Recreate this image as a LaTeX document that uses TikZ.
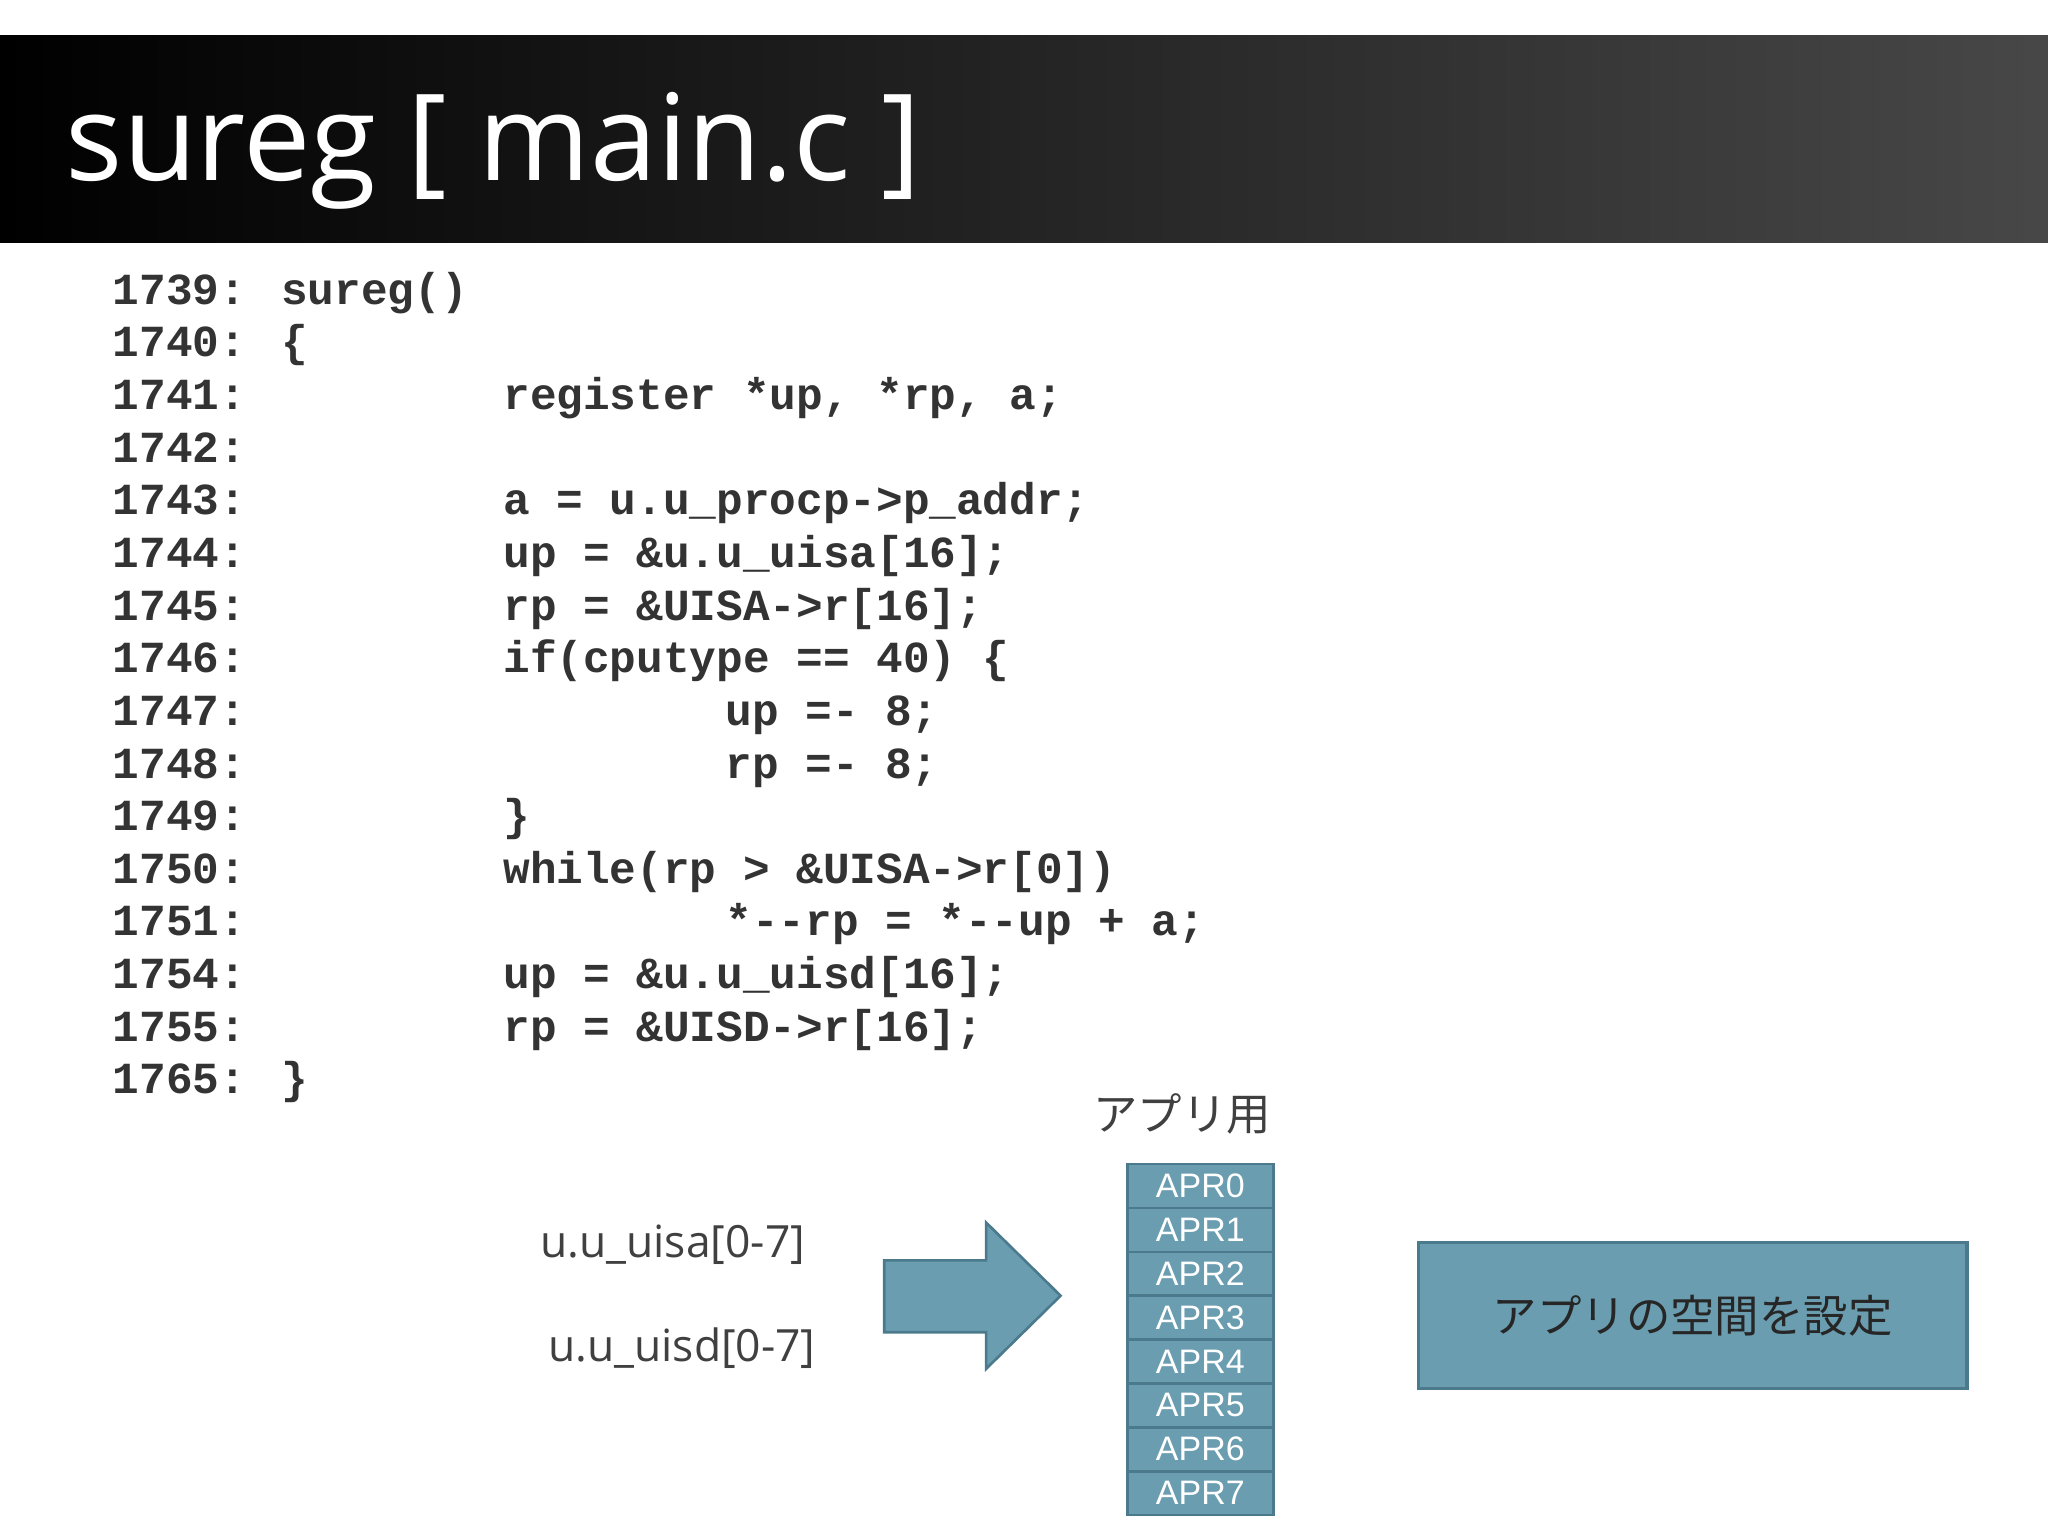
\documentclass[tikz,border=0pt]{standalone}
\usepackage{fontspec}
\setmainfont{Open Sans}
\setmonofont{Liberation Mono}
\newfontfamily\cjk{Noto Sans CJK JP}
\newfontfamily\lib{Liberation Sans}
\definecolor{boxfill}{HTML}{6A9DB0}
\definecolor{boxline}{HTML}{4A7A8C}
\begin{document}
\begin{tikzpicture}[x=0.5pt,y=-0.5pt,
  code/.style={anchor=base west,inner sep=0pt,font=\ttfamily\bfseries\fontsize{17}{20}\selectfont,text=black!80},
  apr/.style={draw=boxline,line width=1pt,fill=boxfill,minimum width=56pt,minimum height=16.8pt,inner sep=0pt,text=white,font=\lib\fontsize{13}{15}\selectfont},
  lbl/.style={inner sep=0pt,font=\fontsize{17}{20}\selectfont,text=black!75}]
\useasboundingbox (0,0) rectangle (1568,1175);
\fill[white] (0,0) rectangle (1568,1175);
\shade[left color=black,right color=black!72] (0,27) rectangle (1568,186);
\node[anchor=base west,inner sep=0pt,text=white,font=\fontsize{46}{50}\selectfont] (title) at (50,138) {sureg [ main.c ]};
\foreach \n/\i/\c [count=\k from 0] in {1739/215/{sureg()},1740/215/\{,1741/385/{register *up, *rp, a;},1742/385/{},1743/385/{a = u.u\_procp->p\_addr;},1744/385/{up = \&u.u\_uisa[16];},1745/385/{rp = \&UISA->r[16];},1746/385/{if(cputype == 40) \{},1747/555/{up =- 8;},1748/555/{rp =- 8;},1749/385/\},1750/385/{while(rp > \&UISA->r[0])},1751/555/{*--rp = *--up + a;},1754/385/{up = \&u.u\_uisd[16];},1755/385/{rp = \&UISD->r[16];},1765/215/\}}{
  \node[code] (ln\k) at (86,{233+40.3*\k}) {\n:};
  \node[code] (cd\k) at (\i,{233+40.3*\k}) {\c};
}
\node[inner sep=0pt,font=\cjk\fontsize{17}{20}\selectfont,text=black!75] (app) at (905,853) {アプリ用};
\foreach \k in {0,...,7}{
  \node[apr] (apr\k) at (919,{908+33.6*\k}) {APR\k};
}
\node[lbl] (uisa) at (515,953) {u.u\_uisa[0-7]};
\node[lbl] (uisd) at (522,1032) {u.u\_uisd[0-7]};
\draw[boxline,line width=1pt,fill=boxfill] (677,965) -- (755,965) -- (755,936) -- (812,992) -- (755,1048) -- (755,1020) -- (677,1020) -- cycle;
\node[draw=boxline,line width=1.2pt,fill=boxfill,minimum width=210pt,minimum height=56pt,inner sep=0pt,font=\cjk\fontsize{17}{20}\selectfont,text=black!85] (set) at (1296,1007) {アプリの空間を設定};
\end{tikzpicture}
\end{document}
